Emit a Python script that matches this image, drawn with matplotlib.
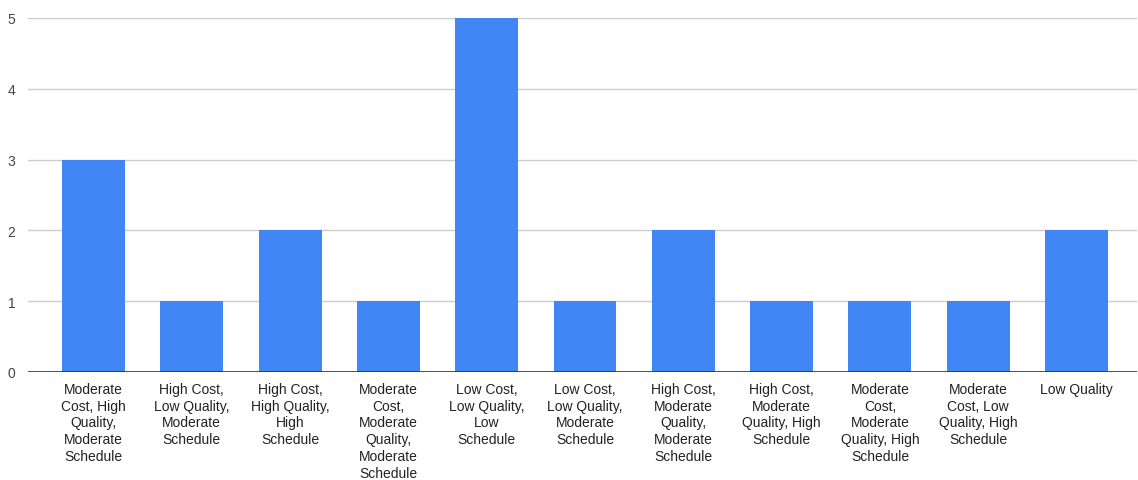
import matplotlib
matplotlib.use("Agg")
import matplotlib.pyplot as plt

categories = [
    "Moderate\nCost, High\nQuality,\nModerate\nSchedule",
    "High Cost,\nLow Quality,\nModerate\nSchedule",
    "High Cost,\nHigh Quality,\nHigh\nSchedule",
    "Moderate\nCost,\nModerate\nQuality,\nModerate\nSchedule",
    "Low Cost,\nLow Quality,\nLow\nSchedule",
    "Low Cost,\nLow Quality,\nModerate\nSchedule",
    "High Cost,\nModerate\nQuality,\nModerate\nSchedule",
    "High Cost,\nModerate\nQuality, High\nSchedule",
    "Moderate\nCost,\nModerate\nQuality, High\nSchedule",
    "Moderate\nCost, Low\nQuality, High\nSchedule",
    "Low Quality",
]
counts = [3, 1, 2, 1, 5, 1, 2, 1, 1, 1, 2]
y_ticks = [0, 1, 2, 3, 4, 5]

plt.rcParams["font.family"] = ["Liberation Sans", "DejaVu Sans"]

fig = plt.figure(figsize=(11.38, 4.81), dpi=100)
ax = fig.add_axes([28 / 1138, 1 - 373 / 481, (1137 - 28) / 1138, (373 - 19) / 481])

x = list(range(len(categories)))
ax.bar(x, counts, width=0.64, color="#4285F4", zorder=3)

ax.set_ylim(0, 5)
ax.set_xlim(-0.666, 10.615)
ax.set_yticks(y_ticks)
ax.set_yticklabels([str(v) for v in y_ticks], fontsize=10, color="#444444")
ax.set_xticks(x)
ax.set_xticklabels(categories, fontsize=10, color="#222222", linespacing=1.26)

ax.grid(axis="y", color="#cccccc", linewidth=1, zorder=0)
ax.axhline(0, color="#333333", linewidth=1.2, zorder=4)
for s in ax.spines.values():
    s.set_visible(False)
ax.tick_params(axis="both", length=0)
ax.tick_params(axis="y", pad=9)
ax.tick_params(axis="x", pad=7)

fig.savefig("out.png", dpi=100, facecolor="white")
